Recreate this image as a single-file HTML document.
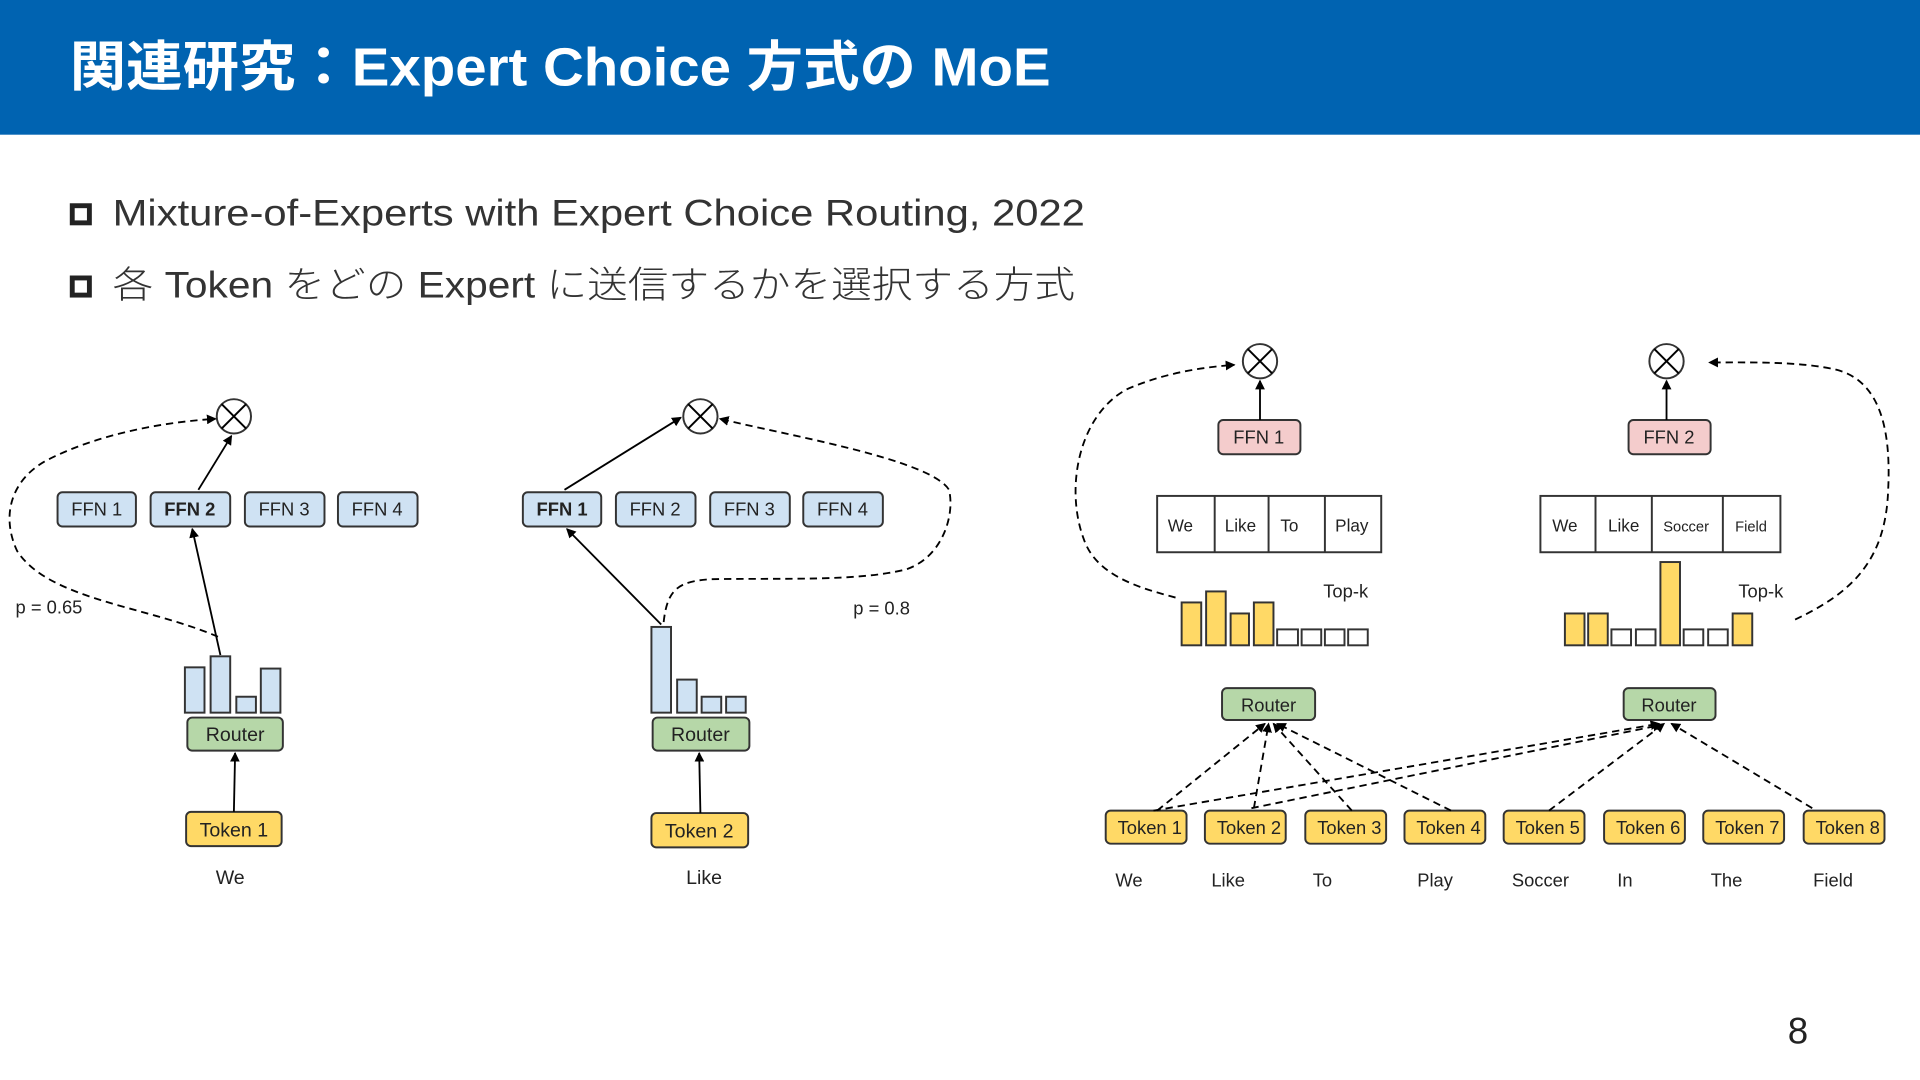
<!DOCTYPE html>
<html><head><meta charset="utf-8"><style>
html,body{margin:0;padding:0;background:#fff;}
svg{display:block;}
text{font-family:"Liberation Sans","Noto Sans CJK JP",sans-serif;}
</style></head><body>
<svg width="1920" height="1080" viewBox="0 0 1568 882" xmlns="http://www.w3.org/2000/svg">
<defs>
<marker id="a" markerWidth="8" markerHeight="8" refX="7" refY="4" orient="auto" markerUnits="userSpaceOnUse"><path d="M0,0 L8,4 L0,8 z" fill="#000"/></marker>
</defs>
<rect x="0" y="0" width="1568" height="110" fill="#0063b1"/>
<text x="57" y="70" font-size="44" font-weight="bold" fill="#fff" textLength="801" lengthAdjust="spacingAndGlyphs">関連研究：Expert Choice 方式の MoE</text>
<rect x="59" y="168" width="14" height="14" fill="none" stroke="#222" stroke-width="4"/>
<text x="92" y="184" font-size="30" fill="#333" font-weight="300" textLength="794" lengthAdjust="spacingAndGlyphs">Mixture-of-Experts with Expert Choice Routing, 2022</text>
<rect x="59" y="227" width="14" height="14" fill="none" stroke="#222" stroke-width="4"/>
<text x="92" y="243" font-size="30" fill="#333" font-weight="300" textLength="786" lengthAdjust="spacingAndGlyphs">各 Token をどの Expert に送信するかを選択する方式</text>
<text x="1460" y="852" font-size="30" fill="#222">8</text>

<g stroke="#333" stroke-width="1.6" font-size="15" text-anchor="middle">
<g fill="#cfe2f3">
<rect x="47" y="402" width="64" height="28" rx="4"/><rect x="123" y="402" width="65" height="28" rx="4"/>
<rect x="200" y="402" width="65" height="28" rx="4"/><rect x="276" y="402" width="65" height="28" rx="4"/>
<rect x="151" y="545" width="16" height="37"/><rect x="172" y="536" width="16" height="46"/>
<rect x="193" y="569" width="16" height="13"/><rect x="213" y="546" width="16" height="36"/>
<rect x="427" y="402" width="64" height="28" rx="4"/><rect x="503" y="402" width="65" height="28" rx="4"/>
<rect x="580" y="402" width="65" height="28" rx="4"/><rect x="656" y="402" width="65" height="28" rx="4"/>
<rect x="532" y="512" width="16" height="70"/><rect x="553" y="555" width="16" height="27"/>
<rect x="573" y="569" width="16" height="13"/><rect x="593" y="569" width="16" height="13"/>
</g>
<g fill="#b6d7a8"><rect x="153" y="586" width="78" height="27" rx="4"/><rect x="533" y="586" width="79" height="27" rx="4"/>
<rect x="998" y="562" width="76" height="26" rx="4"/><rect x="1326" y="562" width="75" height="26" rx="4"/></g>
<g fill="#ffd966"><rect x="152" y="663" width="78" height="28" rx="4"/><rect x="532" y="664" width="79" height="28" rx="4"/>
<rect x="903" y="662" width="66" height="27" rx="4"/><rect x="984" y="662" width="66" height="27" rx="4"/>
<rect x="1066" y="662" width="66" height="27" rx="4"/><rect x="1147" y="662" width="66" height="27" rx="4"/>
<rect x="1228" y="662" width="66" height="27" rx="4"/><rect x="1310" y="662" width="66" height="27" rx="4"/>
<rect x="1391" y="662" width="66" height="27" rx="4"/><rect x="1473" y="662" width="66" height="27" rx="4"/>
<rect x="965" y="492" width="16" height="35"/><rect x="985" y="483" width="16" height="44"/>
<rect x="1005" y="501" width="15" height="26"/><rect x="1024" y="492" width="16" height="35"/>
<rect x="1278" y="501" width="16" height="26"/><rect x="1297" y="501" width="16" height="26"/>
<rect x="1356" y="459" width="16" height="68"/><rect x="1415" y="501" width="16" height="26"/>
</g>
<g fill="#f4cccc"><rect x="995" y="343" width="67" height="28" rx="4"/><rect x="1330" y="343" width="67" height="28" rx="4"/></g>
<g fill="#fff">
<rect x="1043" y="514" width="17" height="13"/><rect x="1063" y="514" width="16" height="13"/>
<rect x="1082" y="514" width="16" height="13"/><rect x="1101" y="514" width="16" height="13"/>
<rect x="1316" y="514" width="16" height="13"/><rect x="1336" y="514" width="16" height="13"/>
<rect x="1375" y="514" width="16" height="13"/><rect x="1395" y="514" width="16" height="13"/>
<rect x="945" y="405" width="183" height="46"/><rect x="1258" y="405" width="196" height="46"/>
<circle cx="191" cy="340" r="14"/><circle cx="572" cy="340" r="14"/>
<circle cx="1029" cy="295" r="14"/><circle cx="1361" cy="295" r="14"/>
</g>
<path d="M992,405V451M1036,405V451M1082,405V451M1303,405V451M1349,405V451M1407,405V451" fill="none"/>
<path d="M181,330l20,20M201,330l-20,20M562,330l20,20M582,330l-20,20M1019,285l20,20M1039,285l-20,20M1351,285l20,20M1371,285l-20,20" fill="none" stroke="#000"/>
</g>

<g stroke="#000" stroke-width="1.5" fill="none" marker-end="url(#a)">
<path d="M191,663L192,615"/><path d="M180,535L157,432"/><path d="M162,400L189,356"/>
<path d="M572,664L571,615"/><path d="M540,510L463,432"/><path d="M461,400L556,341"/>
<path d="M1029,343V311"/><path d="M1361,343V311"/>
</g>
<g stroke="#000" stroke-width="1.5" fill="none" stroke-dasharray="6,4" marker-end="url(#a)">
<path d="M178,520C120,495 40,490 14,450C0,420 10,390 40,375C80,355 130,345 176,342"/>
<path d="M542,508C545,480 555,475 580,473C640,472 700,475 740,465C770,455 780,420 775,400C760,375 640,355 588,342"/>
<path d="M960,488C930,480 895,470 885,440C870,400 880,340 920,318C950,305 980,300 1008,298"/>
<path d="M1466,506C1510,485 1540,460 1542,400C1545,340 1530,310 1500,302C1470,295 1430,296 1396,296"/>
<path d="M945,662L1033,591"/><path d="M1024,660L1036,591"/><path d="M1104,662L1040,591"/><path d="M1185,662L1043,591"/>
<path d="M942,662L1355,591"/><path d="M1022,660L1357,592"/><path d="M1265,662L1359,591"/><path d="M1480,660L1365,591"/>
</g>

<g font-size="15" fill="#222" text-anchor="middle">
<text x="79" y="421">FFN 1</text><text x="155" y="421" font-weight="bold">FFN 2</text><text x="232" y="421">FFN 3</text><text x="308" y="421">FFN 4</text>
<text x="459" y="421" font-weight="bold">FFN 1</text><text x="535" y="421">FFN 2</text><text x="612" y="421">FFN 3</text><text x="688" y="421">FFN 4</text>
<text x="192" y="605" font-size="16">Router</text><text x="572" y="605" font-size="16">Router</text>
<text x="191" y="683" font-size="16">Token 1</text><text x="571" y="684" font-size="16">Token 2</text>
<text x="188" y="722" font-size="16">We</text><text x="575" y="722" font-size="16">Like</text>
<text x="40" y="501" font-size="15">p = 0.65</text><text x="720" y="502" font-size="15">p = 0.8</text>
<text x="1028" y="362">FFN 1</text><text x="1363" y="362">FFN 2</text>
<text x="964" y="434" font-size="14">We</text><text x="1013" y="434" font-size="14">Like</text><text x="1053" y="434" font-size="14">To</text><text x="1104" y="434" font-size="14">Play</text>
<text x="1278" y="434" font-size="14">We</text><text x="1326" y="434" font-size="14">Like</text><text x="1377" y="434" font-size="12">Soccer</text><text x="1430" y="434" font-size="12">Field</text>
<text x="1099" y="488" font-size="15">Top-k</text><text x="1438" y="488" font-size="15">Top-k</text>
<text x="1036" y="581" font-size="15">Router</text><text x="1363" y="581" font-size="15">Router</text>
<g font-size="15"><text x="939" y="681">Token 1</text><text x="1020" y="681">Token 2</text><text x="1102" y="681">Token 3</text><text x="1183" y="681">Token 4</text>
<text x="1264" y="681">Token 5</text><text x="1346" y="681">Token 6</text><text x="1427" y="681">Token 7</text><text x="1509" y="681">Token 8</text></g>
<g font-size="15"><text x="922" y="724">We</text><text x="1003" y="724">Like</text><text x="1080" y="724">To</text><text x="1172" y="724">Play</text>
<text x="1258" y="724">Soccer</text><text x="1327" y="724">In</text><text x="1410" y="724">The</text><text x="1497" y="724">Field</text></g>
</g>
</svg>
</body></html>
